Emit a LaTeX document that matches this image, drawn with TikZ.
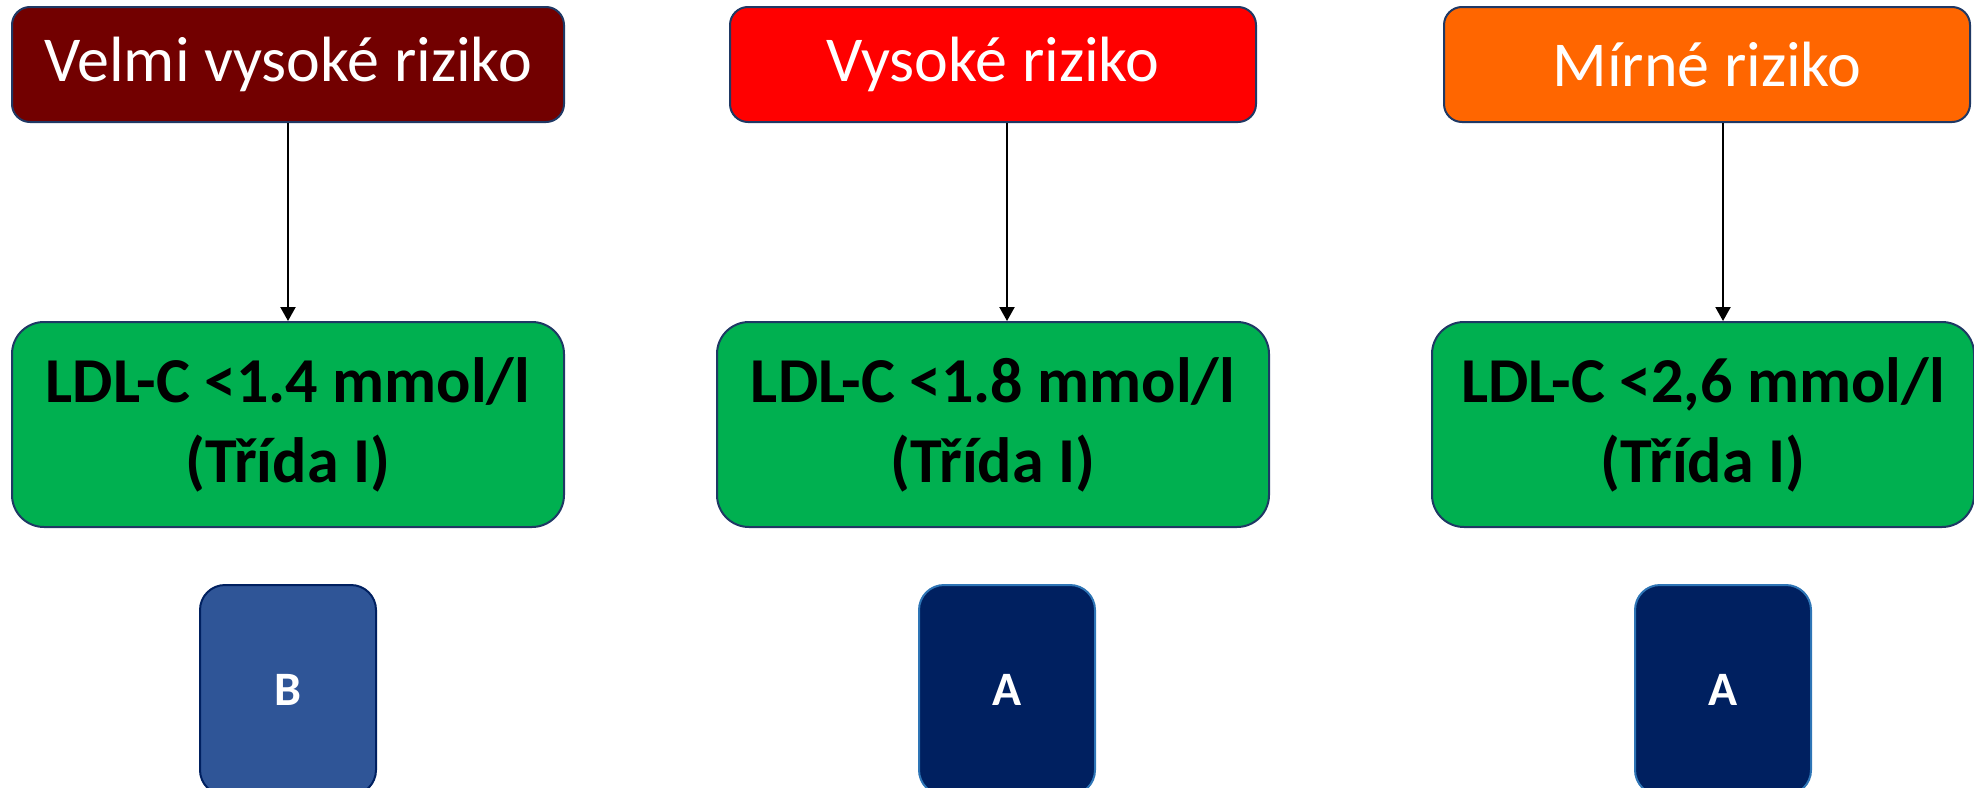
\documentclass[tikz,border=0pt]{standalone}
\usepackage{fontspec}
\setmainfont{Carlito}
\usetikzlibrary{positioning,arrows.meta}
\definecolor{vhighred}{HTML}{720000}
\definecolor{highred}{HTML}{FF0000}
\definecolor{modorange}{HTML}{FF6600}
\definecolor{goalgreen}{HTML}{00B050}
\definecolor{boxline}{HTML}{1F3864}
\definecolor{gradeB}{HTML}{2F5597}
\definecolor{gradeA}{HTML}{002060}
\definecolor{gradeAline}{HTML}{2E75B6}
\tikzstyle{riskbox} = [rectangle, rounded corners=9pt, minimum width=276pt, minimum height=57.5pt, inner sep=0pt, text centered, draw=boxline, line width=1pt, text=white, font=\fontsize{32}{38}\selectfont]
\tikzstyle{goalbox} = [rectangle, rounded corners=16pt, minimum width=276pt, minimum height=102.5pt, inner sep=0pt, align=center, draw=boxline, line width=1pt, fill=goalgreen, font=\bfseries\fontsize{32}{40}\selectfont]
\tikzstyle{gradebox} = [rectangle, rounded corners=12.5pt, minimum width=88pt, minimum height=105pt, inner sep=0pt, text=white, line width=1pt, font=\bfseries\fontsize{24}{28}\selectfont]
\tikzstyle{connect} = [line width=1.1pt, -{Triangle[width=7.5pt,length=7pt]}]

\begin{document}
\begin{tikzpicture}[x=0.5pt,y=-0.5pt]
			\useasboundingbox (0,0) rectangle (1974,787);
			\node (vhigh) [riskbox, fill=vhighred] at (288,64.5) {Velmi vysoké riziko};
			\node (high) [riskbox, fill=highred, minimum width=263pt, node distance=352.5pt, right of=vhigh] {Vysoké riziko};
			\node (moderate) [riskbox, fill=modorange, minimum width=263pt, node distance=357pt, right of=high] {Mírné riziko};
			%-----------------------------------------------
			\node (goal1) [goalbox, node distance=180pt, below of=vhigh] {LDL-C <1.4 mmol/l\\(Třída I)};
			\node (goal2) [goalbox, node distance=180pt, below of=high] {LDL-C <1.8 mmol/l\\(Třída I)};
			\node (goal3) [goalbox, minimum width=271pt, node distance=180pt, below of=moderate, xshift=-2pt] {LDL-C <2,6 mmol/l\\(Třída I)};
			%-----------------------------------------------
			\node (grade1) [gradebox, fill=gradeB, draw=gradeA, node distance=132.75pt, below of=goal1] {B};
			\node (grade2) [gradebox, fill=gradeA, draw=gradeAline, node distance=132.75pt, below of=goal2, xshift=7pt] {A};
			\node (grade3) [gradebox, fill=gradeA, draw=gradeAline, node distance=132.75pt, below of=goal3, xshift=10pt] {A};
			
			%-----------------------------------------------
			%-----------------------------------------------
			
			\draw [connect] (vhigh.south -| grade1) -- (goal1.north -| grade1);
			\draw [connect] (high.south -| grade2) -- (goal2.north -| grade2);
			\draw [connect] (moderate.south -| grade3) -- (goal3.north -| grade3);
\end{tikzpicture}
\end{document}
